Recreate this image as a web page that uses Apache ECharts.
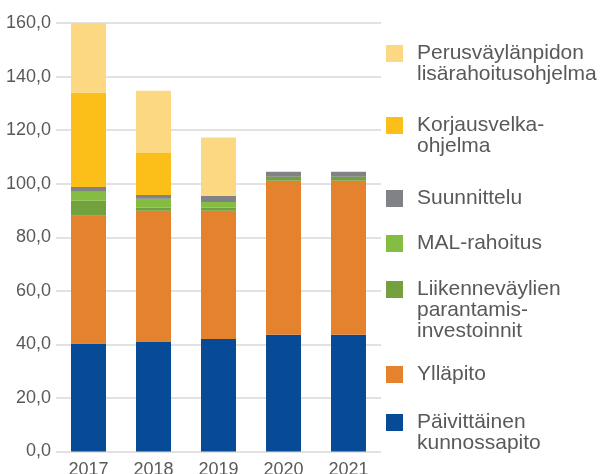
<!DOCTYPE html>
<html>
<head>
<meta charset="utf-8">
<script src="https://cdn.jsdelivr.net/npm/echarts@6/dist/echarts.min.js"></script>
<style>
html,body{margin:0;padding:0;background:#fff;}
#c{width:601px;height:474px;}
</style>
</head>
<body>
<div id="c"></div>
<script>
var years = ['2017', '2018', '2019', '2020', '2021'];
var yTicks = [0, 20, 40, 60, 80, 100, 120, 140, 160];

var paivittainen = [40.3, 40.9, 42.0, 43.6, 43.6];
var yllapito = [47.7, 49.0, 47.9, 57.5, 57.5];
var liikenne = [5.6, 1.1, 1.1, 1.5, 1.5];
var mal = [3.4, 3.4, 2.2, null, null];
var suunnittelu = [1.8, 1.4, 2.3, 1.9, 1.9];
var korjaus = [35.2, 15.7, null, null, null];
var perus = [26.0, 23.2, 21.7, null, null];

var names = {
  perus: 'Perusväylänpidon\nlisärahoitusohjelma',
  korjaus: 'Korjausvelka-\nohjelma',
  suunnittelu: 'Suunnittelu',
  mal: 'MAL-rahoitus',
  liikenne: 'Liikenneväylien\nparantamis-\ninvestoinnit',
  yllapito: 'Ylläpito',
  paivittainen: 'Päivittäinen\nkunnossapito'
};
var colors = {
  perus: '#FDD882',
  korjaus: '#FCBE18',
  suunnittelu: '#818285',
  mal: '#84BD41',
  liikenne: '#72A13D',
  yllapito: '#E5822D',
  paivittainen: '#074A96'
};

var FONT = '"Liberation Sans", Arial, sans-serif';
var LH = 21;

var stackOrder = [
  ['paivittainen', paivittainen],
  ['yllapito', yllapito],
  ['liikenne', liikenne],
  ['mal', mal],
  ['suunnittelu', suunnittelu],
  ['korjaus', korjaus],
  ['perus', perus]
];

var series = stackOrder.map(function (s) {
  return {
    name: names[s[0]],
    type: 'bar',
    stack: 'total',
    barWidth: 35,
    data: s[1],
    itemStyle: { color: colors[s[0]] },
    emphasis: { disabled: true }
  };
});

// legend: icon top positions
var legendItems = [
  ['perus', 45],
  ['korjaus', 117],
  ['suunnittelu', 190],
  ['mal', 235],
  ['liikenne', 281],
  ['yllapito', 366],
  ['paivittainen', 414]
];
var legends = legendItems.map(function (it) {
  var nm = names[it[0]];
  var n = nm.split('\n').length;
  var blockH = (2 * n - 1) * LH;
  var blockTop = Math.min(0, 8.5 - blockH / 2);
  var prefix = new Array(n).join('\n');
  return {
    data: [nm],
    left: 386,
    top: it[1] + blockTop,
    padding: 0,
    orient: 'vertical',
    itemWidth: 17,
    itemHeight: 17,
    icon: 'rect',
    selectedMode: false,
    formatter: function (name) { return prefix + name; },
    textStyle: {
      fontFamily: FONT,
      fontSize: 21,
      lineHeight: LH,
      color: '#595959',
      padding: [0, 0, 0, 9]
    }
  };
});

var chart = echarts.init(document.getElementById('c'), null, { renderer: 'canvas' });
chart.setOption({
  animation: false,
  backgroundColor: '#fff',
  grid: { left: 56, top: 23, width: 325, height: 428.5, containLabel: false, outerBoundsMode: 'none' },
  legend: legends,
  xAxis: {
    type: 'category',
    data: years,
    axisLine: { show: false },
    axisTick: { show: false },
    axisLabel: { fontFamily: FONT, fontSize: 18, color: '#595959', margin: 10 }
  },
  yAxis: {
    type: 'value',
    min: yTicks[0],
    max: yTicks[yTicks.length - 1],
    interval: yTicks[1] - yTicks[0],
    axisLine: { show: false },
    axisTick: { show: false },
    splitLine: { lineStyle: { color: '#D9D9D9', width: 1.5 } },
    axisLabel: {
      fontFamily: FONT, fontSize: 18, color: '#595959', margin: 5,
      formatter: function (v) { return v.toFixed(1).replace('.', ','); }
    }
  },
  series: series
});
</script>
</body>
</html>
